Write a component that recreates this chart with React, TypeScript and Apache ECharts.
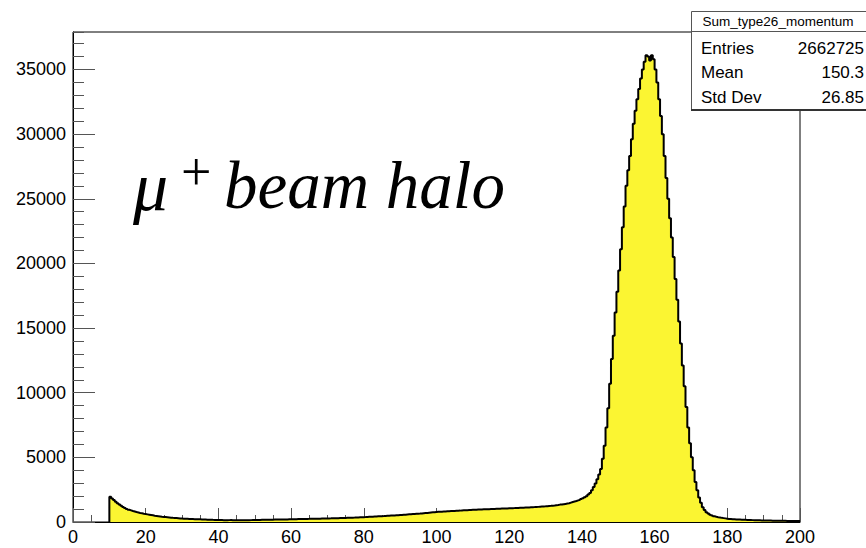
import React, { useEffect, useRef } from "react";
import * as echarts from "echarts";

// Histogram: momentum bins of width 0.5, starting at 10
const binStart = 10;
const binWidth = 0.5;
const counts = [
  1950, 1820, 1700, 1570, 1450, 1350, 1250, 1160, 1080, 1010,
  950, 900, 850, 810, 770, 735, 700, 670, 640, 615,
  590, 565, 540, 515, 490, 470, 450, 430, 410, 395,
  380, 365, 350, 335, 320, 310, 300, 290, 280, 270,
  260, 250, 245, 238, 230, 225, 220, 215, 210, 205,
  200, 195, 190, 182, 175, 170, 165, 162, 160, 155,
  150, 148, 145, 142, 140, 145, 150, 140, 135, 138,
  140, 135, 130, 138, 145, 142, 140, 145, 150, 152,
  155, 158, 160, 165, 170, 168, 165, 172, 180, 182,
  185, 188, 190, 195, 200, 198, 195, 202, 210, 212,
  215, 218, 220, 225, 230, 228, 225, 232, 240, 242,
  245, 248, 250, 252, 255, 260, 265, 268, 270, 275,
  280, 282, 285, 288, 290, 295, 300, 305, 310, 315,
  320, 325, 330, 335, 340, 348, 355, 360, 365, 372,
  380, 390, 400, 405, 410, 420, 430, 438, 445, 452,
  460, 470, 480, 488, 495, 502, 510, 518, 525, 535,
  545, 558, 570, 580, 590, 600, 610, 620, 630, 640,
  650, 665, 680, 690, 700, 715, 730, 745, 760, 775,
  790, 795, 800, 810, 820, 830, 840, 845, 850, 860,
  870, 875, 880, 890, 900, 905, 910, 920, 930, 938,
  945, 952, 960, 965, 970, 978, 985, 990, 995, 1000,
  1005, 1012, 1020, 1025, 1030, 1035, 1040, 1045, 1050, 1058,
  1065, 1070, 1075, 1082, 1090, 1095, 1100, 1108, 1115, 1122,
  1130, 1138, 1145, 1152, 1160, 1170, 1180, 1190, 1200, 1212,
  1225, 1238, 1250, 1265, 1280, 1300, 1320, 1345, 1350, 1375,
  1400, 1425, 1450, 1500, 1550, 1585, 1620, 1670, 1720, 1780,
  1840, 1920, 2000, 2120, 2250, 2450, 2700, 2980, 3300, 3680,
  4100, 4900, 5900, 7300, 8800, 10700, 12600, 14400, 16200, 17800,
  19450, 21100, 22800, 24400, 26000, 27200, 28300, 29600, 30800, 31800,
  32700, 33500, 34300, 35000, 35600, 36100, 36000, 35700, 36100, 35800,
  35000, 34000, 32700, 31400, 30000, 28300, 26600, 25000, 23500, 22000,
  20500, 18800, 17200, 15500, 13800, 12100, 10500, 8900, 7300, 6100,
  5000, 4000, 3100, 2450, 1900, 1480, 1150, 930, 760, 650,
  560, 495, 440, 400, 370, 345, 320, 300, 280, 260,
  240, 230, 220, 210, 200, 192, 185, 178, 170, 165,
  160, 155, 150, 145, 140, 135, 130, 128, 125, 120,
  115, 112, 110, 108, 105, 102, 100, 98, 95, 92,
  90, 88, 85, 82, 80, 80, 80, 78, 80, 78,
];

const xMin = 0;
const xMax = 200;
const xInterval = 20;
const yMin = 0;
const yMax = 37900;
const yInterval = 5000;
const yMinorInterval = 1000;

const statsTitle = "Sum_type26_momentum";
const statsLabels = ["Entries", "Mean", "Std Dev"];
const statsValues = ["2662725", "150.3", "26.85"];

export default function App() {
  const ref = useRef<HTMLDivElement>(null);
  useEffect(() => {
    if (!ref.current) return;
    const chart = echarts.init(ref.current, null, { renderer: "svg" });
    const data: number[][] = [[binStart, 0]];
    counts.forEach((c, i) => data.push([binStart + i * binWidth, c]));
    data.push([binStart + counts.length * binWidth, counts[counts.length - 1]]);

    const labelFont = { fontFamily: "Liberation Sans, Arial, sans-serif", fontSize: 18, color: "#000" };
    const serif = "'Liberation Serif', 'Times New Roman', serif";

    const graphics: any[] = [
      {
        type: "text",
        style: { x: 133, y: 186, text: "μ", font: `italic 70px ${serif}`, fill: "#000", verticalAlign: "middle" },
        z: 100,
      },
      {
        type: "text",
        style: { x: 181, y: 172, text: "+", font: `54px ${serif}`, fill: "#000", verticalAlign: "middle" },
        z: 100,
      },
      {
        type: "text",
        style: { x: 224, y: 185, text: "beam halo", font: `italic 67px ${serif}`, fill: "#000", verticalAlign: "middle" },
        z: 100,
      },
      {
        type: "rect",
        shape: { x: 691.5, y: 11.5, width: 190, height: 98 },
        style: { fill: "#fff", stroke: "#555", lineWidth: 1 },
        z: 100,
      },
      {
        type: "line",
        shape: { x1: 691, y1: 110, x2: 866, y2: 110 },
        style: { stroke: "#333", lineWidth: 2 },
        z: 101,
      },
      {
        type: "line",
        shape: { x1: 691, y1: 31.5, x2: 866, y2: 31.5 },
        style: { stroke: "#555", lineWidth: 1 },
        z: 101,
      },
      {
        type: "text",
        style: {
          x: 778, y: 21.5, text: statsTitle,
          font: "13.5px 'Liberation Sans', Arial, sans-serif",
          fill: "#000", align: "center", verticalAlign: "middle",
        },
        z: 102,
      },
    ];
    statsLabels.forEach((lab, i) => {
      graphics.push({
        type: "text",
        style: {
          x: 701, y: 48 + i * 24.5, text: lab,
          font: "17px 'Liberation Sans', Arial, sans-serif",
          fill: "#000", align: "left", verticalAlign: "middle",
        },
        z: 102,
      });
      graphics.push({
        type: "text",
        style: {
          x: 864, y: 48 + i * 24.5, text: statsValues[i],
          font: "17px 'Liberation Sans', Arial, sans-serif",
          fill: "#000", align: "right", verticalAlign: "middle",
        },
        z: 102,
      });
    });

    chart.setOption({
      animation: false,
      backgroundColor: "#fff",
      grid: {
        left: 73, right: 66, top: 32, bottom: 26,
        show: true, borderColor: "#000", borderWidth: 1, backgroundColor: "transparent",
      },
      xAxis: {
        type: "value", min: xMin, max: xMax, interval: xInterval,
        axisLine: { lineStyle: { color: "#000", width: 1 } },
        axisTick: { inside: true, length: 14, lineStyle: { color: "#555", width: 1 } },
        minorTick: { show: true, splitNumber: 4, length: 7, lineStyle: { color: "#555", width: 1 } },
        splitLine: { show: false },
        axisLabel: { ...labelFont, margin: 6 },
      },
      yAxis: [
        {
          type: "value", min: yMin, max: yMax, interval: yInterval,
          axisLine: { lineStyle: { color: "#000", width: 1 } },
          axisTick: { inside: true, length: 22, lineStyle: { color: "#555", width: 1 } },
          splitLine: { show: false },
          axisLabel: { ...labelFont, margin: 7, showMaxLabel: false, formatter: (v: number) => String(v) },
        },
        {
          type: "value", min: yMin, max: yMax, interval: yMinorInterval, position: "left",
          axisLine: { show: false },
          axisTick: { inside: true, length: 11, lineStyle: { color: "#555", width: 1 } },
          splitLine: { show: false },
          axisLabel: { show: false },
        },
      ],
      series: [
        {
          type: "line",
          step: "end",
          data,
          symbol: "none",
          yAxisIndex: 0,
          lineStyle: { color: "#000", width: 2 },
          areaStyle: { color: "#fbf532", opacity: 1 },
          z: 2,
        },
      ],
      graphic: graphics,
    });
    return () => chart.dispose();
  }, []);
  return <div ref={ref} style={{ position: "fixed", left: 0, top: 0, width: 866, height: 548 }} />;
}
